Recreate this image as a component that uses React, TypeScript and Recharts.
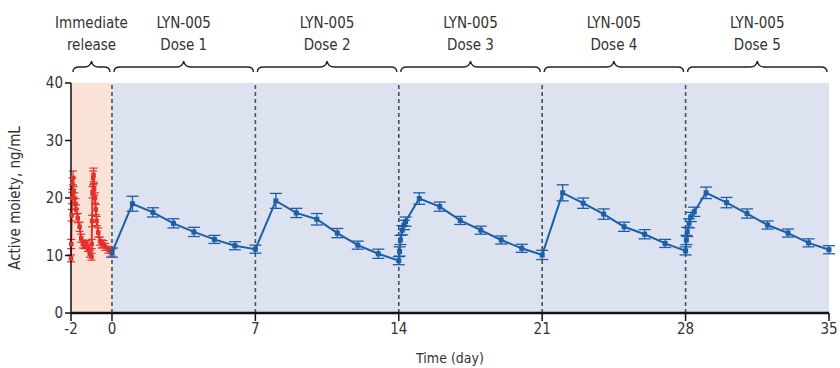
import React from "react";
import {
  LineChart,
  Line,
  XAxis,
  YAxis,
  ReferenceArea,
  ReferenceLine,
  ErrorBar,
} from "recharts";

// immediate release, days -2..0
const irDays = [
  -2.0, -1.99, -1.97, -1.95, -1.93, -1.9, -1.875, -1.83, -1.79, -1.75, -1.67, -1.58, -1.5,
  -1.42, -1.33, -1.25, -1.17, -1.08, -1.0, -0.99, -0.97, -0.95, -0.92, -0.9, -0.875, -0.83,
  -0.79, -0.75, -0.67, -0.58, -0.5, -0.42, -0.33, -0.17, 0,
];
const irValues = [
  9.5, 12, 17, 20, 22.5, 23.5, 21, 20, 19, 18, 16.5, 15, 13, 12, 11.8, 12, 11.3, 10.3, 9.8,
  12, 16, 21, 23.5, 24, 21.5, 20, 18, 16, 14, 12.5, 12, 12, 11.5, 11, 10.5,
];
const irErrors = [
  0.6, 0.8, 1, 1, 1, 1.2, 1, 0.9, 0.9, 0.8, 0.8, 0.8, 0.7, 0.7, 0.6, 0.6, 0.6, 0.6, 0.6,
  0.8, 1, 1, 1.2, 1.2, 1, 0.9, 0.9, 0.8, 0.8, 0.7, 0.7, 0.6, 0.6, 0.6, 0.6,
];

// LYN-005, days 0..35
const lynDays = [
  0, 1, 2, 3, 4, 5, 6, 7, 8, 9, 10, 11, 12, 13, 14, 14.04, 14.08, 14.17, 14.25, 14.33, 15,
  16, 17, 18, 19, 20, 21, 22, 23, 24, 25, 26, 27, 28, 28.04, 28.08, 28.17, 28.25, 28.42, 29,
  30, 31, 32, 33, 34, 35,
];
const lynValues = [
  10.5, 19.0, 17.5, 15.6, 14.1, 12.8, 11.7, 11.1, 19.5, 17.4, 16.3, 13.9, 11.8, 10.3, 9.1,
  10.7, 12.7, 14.4, 15.3, 15.9, 19.9, 18.5, 16.1, 14.4, 12.7, 11.25, 10.1, 20.9, 19.1, 17.2,
  15.0, 13.7, 12.1, 10.8, 12.7, 14.1, 15.6, 16.7, 17.6, 20.9, 19.2, 17.3, 15.3, 13.9, 12.2,
  11.0,
];
const lynErrors = [
  0.8, 1.3, 0.8, 0.8, 0.8, 0.7, 0.7, 0.7, 1.3, 0.8, 1.0, 0.8, 0.7, 0.8, 0.7, 0.8, 0.8, 0.8,
  0.8, 0.8, 1.0, 0.8, 0.7, 0.7, 0.7, 0.7, 0.8, 1.4, 0.9, 0.9, 0.8, 0.8, 0.7, 0.7, 0.8, 0.8,
  0.8, 0.8, 0.8, 1.0, 0.9, 0.8, 0.7, 0.7, 0.7, 0.7,
];

const periods = [
  { from: -2, to: 0, top: "Immediate", bottom: "release" },
  { from: 0, to: 7, top: "LYN-005", bottom: "Dose 1" },
  { from: 7, to: 14, top: "LYN-005", bottom: "Dose 2" },
  { from: 14, to: 21, top: "LYN-005", bottom: "Dose 3" },
  { from: 21, to: 28, top: "LYN-005", bottom: "Dose 4" },
  { from: 28, to: 35, top: "LYN-005", bottom: "Dose 5" },
];
const doseLines = [0, 7, 14, 21, 28];
const xTicks = [-2, 0, 7, 14, 21, 28, 35];
const yTicks = [0, 10, 20, 30, 40];

const irData = irDays.map((t, i) => ({ t, v: irValues[i], e: irErrors[i] }));
const lynData = lynDays.map((t, i) => ({ t, v: lynValues[i], e: lynErrors[i] }));

const FONT = "'Liberation Sans Narrow', 'DejaVu Sans Condensed', 'Roboto Condensed', sans-serif";
const TEXT = "#333";

const Header = (props: any) => {
  const { viewBox, top, bottom } = props;
  const { x, y, width } = viewBox;
  const x1 = x + 2;
  const x2 = x + width - 2;
  const xm = x + width / 2;
  const by = y - 16;
  const d = `M${x1},${by + 5} Q${x1},${by} ${x1 + 6},${by} L${xm - 7},${by} Q${xm - 1},${by} ${xm},${by - 6} Q${xm + 1},${by} ${xm + 7},${by} L${x2 - 6},${by} Q${x2},${by} ${x2},${by + 5}`;
  return (
    <g>
      <path d={d} fill="none" stroke="#222" strokeWidth={1.4} />
      <text x={xm} y={y - 55} textAnchor="middle" fontSize={15} fill={TEXT} fontFamily={FONT}>
        {top}
      </text>
      <text x={xm} y={y - 33} textAnchor="middle" fontSize={15} fill={TEXT} fontFamily={FONT}>
        {bottom}
      </text>
    </g>
  );
};

const YTitle = (props: any) => {
  const { viewBox } = props;
  const cx = 20;
  const cy = viewBox.y + viewBox.height / 2;
  return (
    <text
      x={cx}
      y={cy}
      transform={`rotate(-90 ${cx} ${cy})`}
      textAnchor="middle"
      fontSize={15}
      fill={TEXT}
      fontFamily={FONT}
    >
      Active moiety, ng/mL
    </text>
  );
};

const Square = (color: string, s: number) => (props: any) => {
  const { cx, cy, index } = props;
  if (cx == null || cy == null) return <g key={index} />;
  return <rect key={index} x={cx - s / 2} y={cy - s / 2} width={s} height={s} fill={color} />;
};

export default function App() {
  return (
    <div style={{ position: "absolute", left: 0, top: 0, background: "#fff" }}>
      <LineChart
        width={840}
        height={368}
        margin={{ top: 83, right: 11, left: 21, bottom: 25 }}
      >
        {periods.map((p, i) => (
          <ReferenceArea
            key={p.bottom}
            x1={p.from}
            x2={p.to}
            y1={0}
            y2={40}
            fill={i === 0 ? "#fbe2d6" : "#dce2f0"}
            fillOpacity={1}
            stroke="none"
            label={<Header top={p.top} bottom={p.bottom} />}
          />
        ))}
        {doseLines.map((d) => (
          <ReferenceLine
            key={d}
            x={d}
            stroke="#3e5662"
            strokeWidth={1.6}
            strokeDasharray="4 3"
          />
        ))}
        <XAxis
          dataKey="t"
          type="number"
          domain={[-2, 35]}
          ticks={xTicks}
          allowDuplicatedCategory={false}
          height={30}
          tickSize={8}
          axisLine={{ stroke: "#111", strokeWidth: 2.5 }}
          tickLine={{ stroke: "#111", strokeWidth: 1.5 }}
          tick={{ fill: TEXT, fontSize: 15, fontFamily: FONT }}
          label={{
            value: "Time (day)",
            position: "insideBottom",
            offset: -20,
            fill: TEXT,
            fontSize: 14,
            fontFamily: FONT,
          }}
        />
        <YAxis
          type="number"
          domain={[0, 40]}
          ticks={yTicks}
          width={50}
          tickSize={6}
          axisLine={{ stroke: "#111", strokeWidth: 1.5 }}
          tickLine={{ stroke: "#111", strokeWidth: 1.5 }}
          tick={{ fill: TEXT, fontSize: 15, fontFamily: FONT }}
          label={<YTitle />}
        />
        <Line
          data={irData}
          dataKey="v"
          stroke="#e4302b"
          strokeWidth={2}
          dot={Square("#e4302b", 4.5)}
          activeDot={false}
          isAnimationActive={false}
        >
          <ErrorBar dataKey="e" direction="y" width={4} stroke="#e4302b" strokeWidth={1.2} />
        </Line>
        <Line
          data={lynData}
          dataKey="v"
          stroke="#1d5ea8"
          strokeWidth={2}
          dot={Square("#1d5ea8", 5)}
          activeDot={false}
          isAnimationActive={false}
        >
          <ErrorBar dataKey="e" direction="y" width={6} stroke="#1d5ea8" strokeWidth={1.3} />
        </Line>
      </LineChart>
    </div>
  );
}
